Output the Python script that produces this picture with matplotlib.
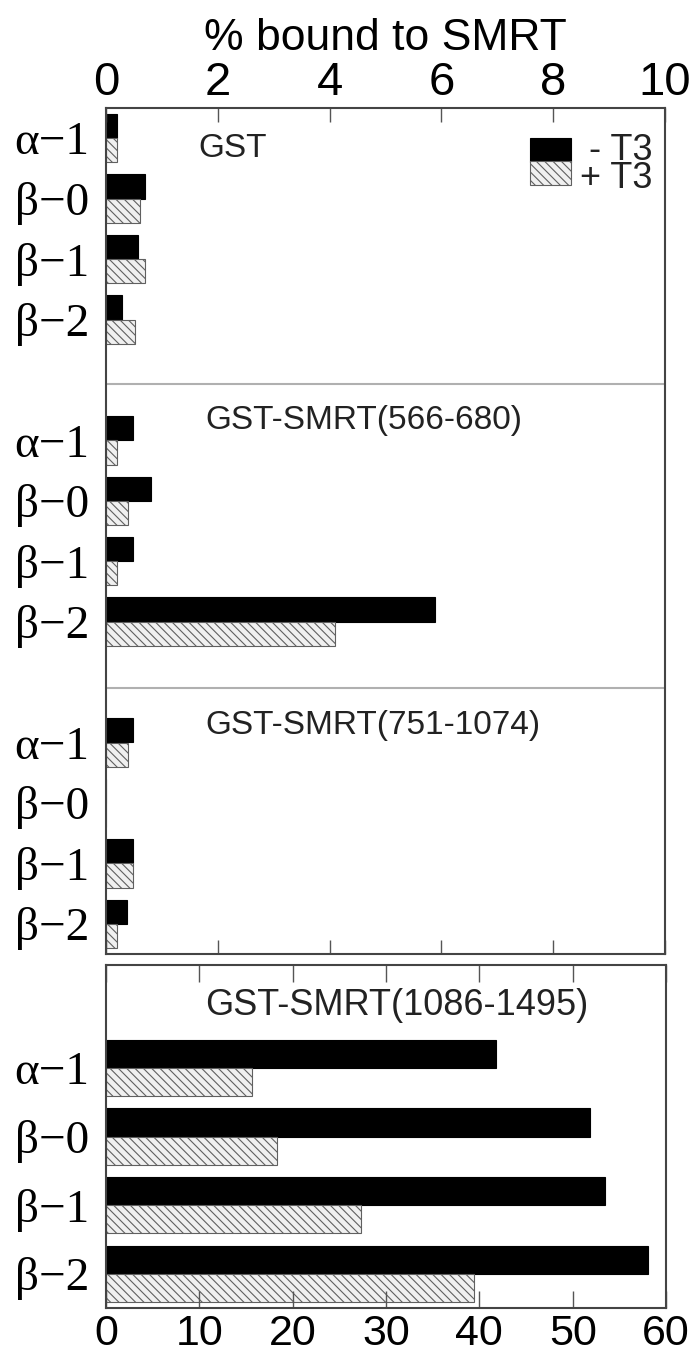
import numpy as np
import matplotlib
matplotlib.use('Agg')
import matplotlib.pyplot as plt

# receptor constructs (same order in every panel)
constructs = ['α−1', 'β−0', 'β−1', 'β−2']
legend_labels = ['- T3', '+ T3']

# top panel, % bound (0-10 scale)
top_titles = ['GST', 'GST-SMRT(566-680)', 'GST-SMRT(751-1074)']
gst_minus = [0.19, 0.70, 0.58, 0.29]
gst_plus = [0.19, 0.61, 0.70, 0.51]
smrt566_minus = [0.49, 0.80, 0.49, 5.88]
smrt566_plus = [0.20, 0.40, 0.19, 4.09]
smrt751_minus = [0.48, 0.0, 0.49, 0.38]
smrt751_plus = [0.40, 0.0, 0.49, 0.20]

# bottom panel, % bound (0-60 scale)
bottom_title = 'GST-SMRT(1086-1495)'
smrt1086_minus = [41.8, 51.9, 53.5, 58.1]
smrt1086_plus = [15.6, 18.3, 27.3, 39.4]

plt.rcParams['font.family'] = ['Liberation Sans', 'DejaVu Sans']
plt.rcParams['hatch.linewidth'] = 0.8

W, H = 695, 1355
fig = plt.figure(figsize=(W / 100, H / 100), dpi=100)
ax = fig.add_axes([106 / W, 1 - 954 / H, 559 / W, 846 / H])
ax2 = fig.add_axes([106 / W, 1 - 1308 / H, 560 / W, 343 / H])

black = dict(facecolor='black', edgecolor='black', linewidth=0.8)
hatched = dict(facecolor='#f0f0f0', edgecolor='#606060', hatch='\\\\\\\\', linewidth=0.8)
label_font = dict(family=['Liberation Serif', 'DejaVu Serif'], size=34)
frame_col = '#444444'

# ---- top panel: three stacked sections in one axes
top_minus = [gst_minus, smrt566_minus, smrt751_minus]
top_plus = [gst_plus, smrt566_plus, smrt751_plus]
title_pos = [(1.65, 0.81), (1.77, 5.32), (1.77, 10.36)]
h = 0.4
yticks, ylabels = [], []
for s, (mv, pv) in enumerate(zip(top_minus, top_plus)):
    y = np.arange(len(constructs)) + 0.5 + 5 * s
    bm = ax.barh(y - h, mv, height=h, align='edge', **black)
    bp = ax.barh(y, pv, height=h, align='edge', **hatched)
    yticks += list(y)
    ylabels += constructs
    ax.text(title_pos[s][0], title_pos[s][1], top_titles[s], fontsize=24,
            ha='left', va='baseline', color='#222222')

for sep in (4.56, 9.6):
    ax.axhline(sep, color='#b0b0b0', lw=1.5)

ax.set_xlim(0, 10)
ax.set_ylim(14, 0)
ax.set_xticks(range(0, 11, 2))
ax.tick_params(axis='x', direction='in', top=True, bottom=True, labeltop=True,
               labelbottom=False, length=10, width=1, color='#555555',
               labelsize=34, pad=2)
ax.set_yticks(yticks, ylabels, **label_font)
ax.tick_params(axis='y', length=0, pad=12)
ax.xaxis.set_label_position('top')
ax.set_xlabel('% bound to SMRT', fontsize=32, labelpad=8)

# legend: swatches from the bars, labels as one right-aligned text block
ax.legend([bm, bp], ['', ''], loc='upper left', bbox_to_anchor=(0.758, 0.965),
          frameon=False, fontsize=24, handlelength=1.25, handleheight=0.72,
          labelspacing=-0.24, handletextpad=0, borderaxespad=0, borderpad=0)
ax.text(0.977, 0.970, '\n'.join(legend_labels), transform=ax.transAxes,
        fontsize=26, ha='right', va='top', multialignment='right',
        linespacing=0.74, color='#222222')

# ---- bottom panel
y2 = np.arange(len(constructs)) + 1.5
h2 = 0.41
ax2.barh(y2 - h2, smrt1086_minus, height=h2, align='edge', **black)
ax2.barh(y2, smrt1086_plus, height=h2, align='edge', **hatched)
ax2.set_xlim(0, 60)
ax2.set_ylim(5, 0)
ax2.set_xticks(range(0, 61, 10))
ax2.tick_params(axis='x', direction='in', top=True, bottom=True, length=12,
                width=1, color='#555555', labelsize=31, pad=4)
ax2.set_yticks(y2, constructs, **label_font)
ax2.tick_params(axis='y', length=0, pad=12)
ax2.text(10.6, 0.73, bottom_title, fontsize=26, ha='left', va='baseline',
         color='#222222')

for a in (ax, ax2):
    for sp in a.spines.values():
        sp.set_color(frame_col)
        sp.set_linewidth(1.5)

fig.savefig('out.png', dpi=100)
